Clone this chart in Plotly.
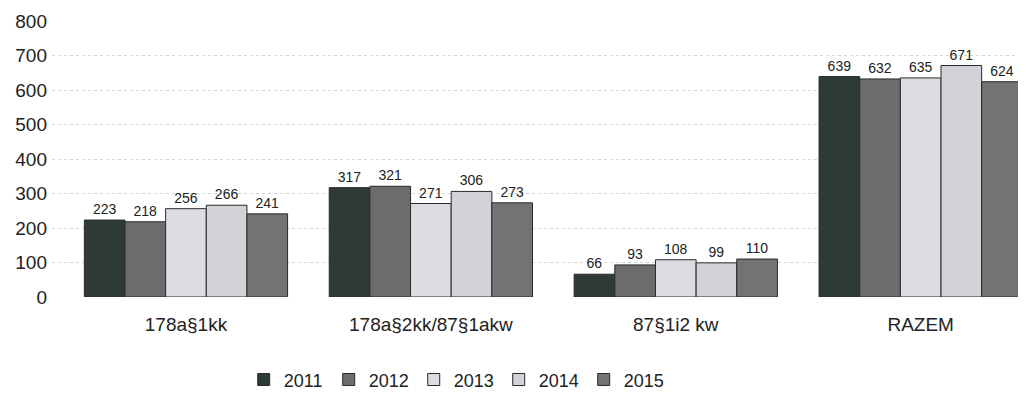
import plotly.graph_objects as go

categories = ["178a§1kk", "178a§2kk/87§1akw", "87§1i2 kw", "RAZEM"]
years = ["2011", "2012", "2013", "2014", "2015"]
values = {
    "2011": [223, 317, 66, 639],
    "2012": [218, 321, 93, 632],
    "2013": [256, 271, 108, 635],
    "2014": [266, 306, 99, 671],
    "2015": [241, 273, 110, 624],
}
colors = {
    "2011": "#2e3a36",
    "2012": "#6c6c6c",
    "2013": "#dcdce2",
    "2014": "#d2d2d8",
    "2015": "#737373",
}

FONT = "Liberation Sans, Arial, sans-serif"

fig = go.Figure()
for y in years:
    fig.add_trace(go.Bar(
        name=y, x=categories, y=values[y],
        marker=dict(color=colors[y], line=dict(color="#2a2a2a", width=1)),
        text=values[y], textposition="outside",
        textfont=dict(size=14, color="#222", family=FONT),
        cliponaxis=False,
    ))

fig.update_layout(
    width=1018, height=405,
    margin=dict(l=44, r=0, t=13, b=116),
    paper_bgcolor="white", plot_bgcolor="white",
    barmode="group", bargap=0.17, bargroupgap=0,
    font=dict(family=FONT, color="#222"),
    showlegend=True,
    legend=dict(orientation="h", x=0.415, xanchor="center", y=-0.30, yanchor="middle",
                font=dict(size=18), itemwidth=30, traceorder="normal",
                entrywidth=40, entrywidthmode="pixels"),
    xaxis=dict(range=[-0.547, 3.43], tickfont=dict(size=19), showline=False,
               ticks="", showgrid=False, ticklabelstandoff=14),
    yaxis=dict(range=[0, 800], dtick=100, tickfont=dict(size=19),
               showgrid=True, gridcolor="#d4d4d4", griddash="dot", gridwidth=1,
               zeroline=False, ticks="", ticklabelstandoff=4),
)
fig.write_html("out.html")
